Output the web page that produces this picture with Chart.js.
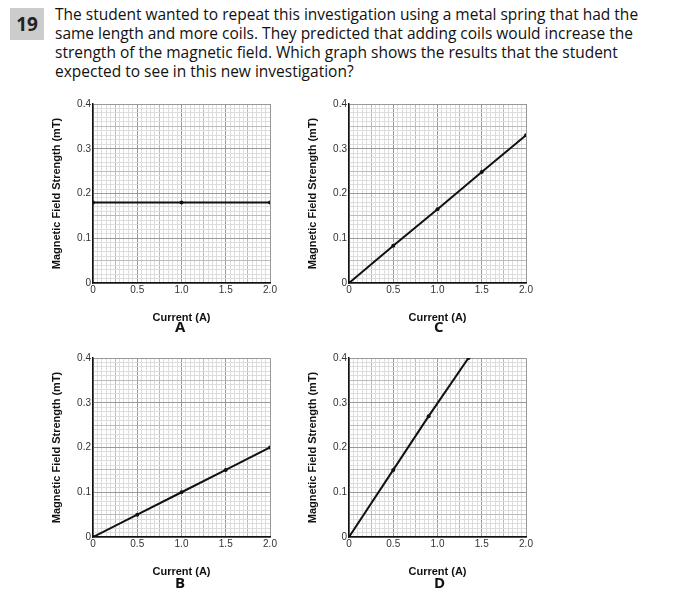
<!DOCTYPE html>
<html><head><meta charset="utf-8">
<script src="https://cdn.jsdelivr.net/npm/chart.js@4"></script>
<style>
body{margin:0;background:#fff;font-family:"Open Sans",sans-serif;width:691px;height:599px;position:relative;overflow:hidden}
.num{position:absolute;left:10px;top:8px;width:34px;height:32px;background:#ccc;font-weight:bold;font-size:19px;text-align:center;line-height:32px;color:#222}
.q{position:absolute;left:55px;top:5px;font-size:15.5px;line-height:19px;color:#111;width:630px}
.c{position:absolute;width:240px;height:230px}
.lab{position:absolute;font-weight:bold;font-size:15px;color:#111}
</style></head><body>
<div class="num">19</div>
<div class="q">The student wanted to repeat this investigation using a metal spring that had the<br>same length and more coils. They predicted that adding coils would increase the<br>strength of the magnetic field. Which graph shows the results that the student<br>expected to see in this new investigation?</div>
<div class="c" style="left:50px;top:95px"><canvas id="cA" width="240" height="230"></canvas></div>
<div class="c" style="left:306px;top:95px"><canvas id="cC" width="240" height="230"></canvas></div>
<div class="c" style="left:50px;top:349px"><canvas id="cB" width="240" height="230"></canvas></div>
<div class="c" style="left:306px;top:349px"><canvas id="cD" width="240" height="230"></canvas></div>
<div class="lab" style="left:175px;top:316px">A</div>
<div class="lab" style="left:434px;top:316px">C</div>
<div class="lab" style="left:175px;top:572px">B</div>
<div class="lab" style="left:434px;top:572px">D</div>
<script>
const currentA=[0,1.0,2.0], fieldA=[0.18,0.18,0.18];
const currentC=[0,0.5,1.0,1.5,2.0], fieldC=[0,0.083,0.165,0.248,0.33];
const currentB=[0,0.5,1.0,1.5,2.0], fieldB=[0,0.05,0.1,0.15,0.2];
const currentD=[0,0.5,0.9,1.35], fieldD=[0,0.15,0.27,0.4];
const xTicks=[0,0.5,1.0,1.5,2.0], yTicks=[0,0.1,0.2,0.3,0.4];
function near(v,arr){return arr.some(t=>Math.abs(v-t)<1e-6);}
function mk(id,xs,ys){
  new Chart(document.getElementById(id),{type:'line',
    data:{datasets:[{data:xs.map((x,i)=>({x,y:ys[i]})),borderColor:'#111',borderWidth:2,pointRadius:2,pointBackgroundColor:'#111',pointBorderWidth:0}]},
    options:{responsive:false,animation:false,events:[],layout:{padding:{top:9,right:20}},
      plugins:{legend:{display:false},tooltip:{enabled:false}},
      scales:{
        x:{type:'linear',min:0,max:2,afterFit:s=>{s.height=42},
          afterBuildTicks:s=>{const t=[];for(let i=0;i<=40;i++)t.push({value:i*0.05});s.ticks=t;},
          ticks:{autoSkip:false,maxRotation:0,padding:1,color:'#333',font:{size:10,family:'Arial'},callback:v=>near(v,xTicks)?(v===0?'0':v.toFixed(1)):''},
          grid:{color:c=>{const v=c.tick.value;return near(v,xTicks)?'#999':(Math.round(v*20)%5===0?'#bbb':'#ddd')},lineWidth:1,tickLength:0},
          border:{color:'#111',width:1.5},
          title:{display:true,text:'Current (A)',color:'#111',font:{size:11,weight:'bold',family:'Arial'},padding:0}},
        y:{type:'linear',min:0,max:0.4,afterFit:s=>{s.width=43},
          afterBuildTicks:s=>{const t=[];for(let i=0;i<=40;i++)t.push({value:i*0.01});s.ticks=t;},
          ticks:{autoSkip:false,padding:2,color:'#333',font:{size:10,family:'Arial'},callback:v=>near(v,yTicks)?(v===0?'0':v.toFixed(1)):''},
          grid:{color:c=>{const v=c.tick.value;return near(v,yTicks)?'#999':(Math.round(v*100)%5===0?'#bbb':'#ddd')},lineWidth:1,tickLength:0},
          border:{color:'#111',width:1.5},
          title:{display:true,text:'Magnetic Field Strength (mT)',color:'#111',font:{size:11,weight:'bold',family:'Arial'},padding:0}}
      }}});
}
mk('cA',currentA,fieldA);mk('cC',currentC,fieldC);mk('cB',currentB,fieldB);mk('cD',currentD,fieldD);
</script>
</body></html>
